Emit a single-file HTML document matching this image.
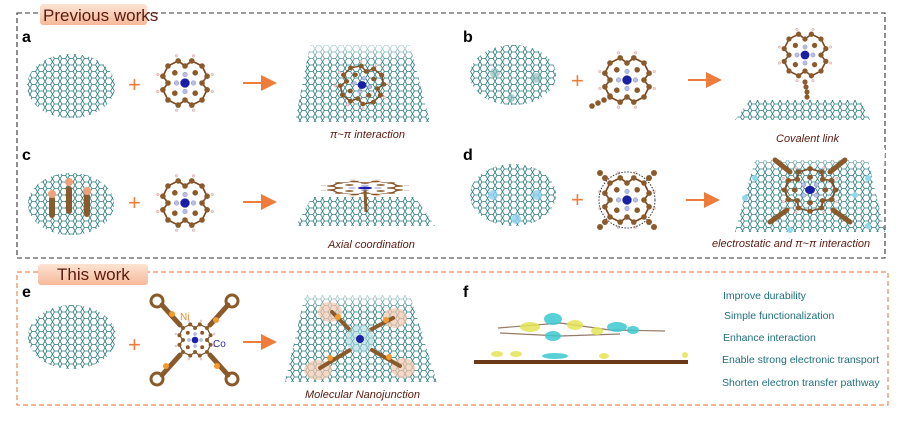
<!DOCTYPE html>
<html><head><meta charset="utf-8"><style>
html,body{margin:0;padding:0;background:#fff}
svg{display:block}
text{font-family:"Liberation Sans",sans-serif}
</style></head><body>
<svg width="900" height="424" viewBox="0 0 900 424" xmlns="http://www.w3.org/2000/svg">
<defs>
<pattern id="hex" width="7.5" height="6.5" patternUnits="userSpaceOnUse">
<path d="M0 3.25 L1.9 0 L5.6 0 L7.5 3.25 L5.6 6.5 L1.9 6.5 Z" fill="none" stroke="#2a7a7e" stroke-width="0.8"/>
</pattern>
<linearGradient id="peach" x1="0" y1="0" x2="0" y2="1"><stop offset="0" stop-color="#fde3d3"/><stop offset="1" stop-color="#f6b99a"/></linearGradient>
<linearGradient id="fade" x1="0" y1="0" x2="0" y2="1"><stop offset="0" stop-color="#fff" stop-opacity="1"/><stop offset="1" stop-color="#fff" stop-opacity="0"/></linearGradient>
<g id="por">
<path d="M-20-20 L-8-26 L0-20 L8-26 L20-20 L26-8 L20 0 L26 8 L20 20 L8 26 L0 20 L-8 26 L-20 20 L-26 8 L-20 0 L-26-8 Z" fill="none" stroke="#7a4a25" stroke-width="2"/>
<g fill="#8b5a2b">
<circle cx="-20" cy="-20" r="3.3"/><circle cx="-8" cy="-26" r="3.3"/><circle cx="0" cy="-20" r="3.3"/><circle cx="8" cy="-26" r="3.3"/><circle cx="20" cy="-20" r="3.3"/><circle cx="26" cy="-8" r="3.3"/><circle cx="20" cy="0" r="3.3"/><circle cx="26" cy="8" r="3.3"/><circle cx="20" cy="20" r="3.3"/><circle cx="8" cy="26" r="3.3"/><circle cx="0" cy="20" r="3.3"/><circle cx="-8" cy="26" r="3.3"/><circle cx="-20" cy="20" r="3.3"/><circle cx="-26" cy="8" r="3.3"/><circle cx="-20" cy="0" r="3.3"/><circle cx="-26" cy="-8" r="3.3"/>
<circle cx="-12" cy="-12" r="3.3"/><circle cx="12" cy="-12" r="3.3"/><circle cx="12" cy="12" r="3.3"/><circle cx="-12" cy="12" r="3.3"/>
</g>
<g fill="#b9c0e6" stroke="#7d86c8" stroke-width="0.6"><circle cx="-10" cy="0" r="2.6"/><circle cx="10" cy="0" r="2.6"/><circle cx="0" cy="-10" r="2.6"/><circle cx="0" cy="10" r="2.6"/></g>
<g fill="#f3d6d6" stroke="#c99" stroke-width="0.5"><circle cx="-10" cy="-32" r="1.6"/><circle cx="10" cy="-32" r="1.6"/><circle cx="32" cy="-10" r="1.6"/><circle cx="32" cy="10" r="1.6"/><circle cx="10" cy="32" r="1.6"/><circle cx="-10" cy="32" r="1.6"/><circle cx="-32" cy="10" r="1.6"/><circle cx="-32" cy="-10" r="1.6"/></g>
<circle cx="0" cy="0" r="5.5" fill="#1a1fa8"/>
</g>
<marker id="ar" markerWidth="8" markerHeight="8" refX="7" refY="4" orient="auto"><path d="M0 0 L8 4 L0 8 Z" fill="#ee7d3c"/></marker>
</defs>

<rect x="17" y="13" width="868" height="245" fill="none" stroke="#333" stroke-width="1.1" stroke-dasharray="5,3"/>
<rect x="40" y="4" width="107" height="21" rx="3" fill="url(#peach)"/>
<text x="43" y="21" font-size="17" fill="#5a1a10">Previous works</text>
<text x="22" y="42" font-size="16" font-weight="bold">a</text>
<text x="463" y="42" font-size="16" font-weight="bold">b</text>
<text x="22" y="160" font-size="16" font-weight="bold">c</text>
<text x="463" y="160" font-size="16" font-weight="bold">d</text>

<ellipse cx="71" cy="86" rx="44" ry="32" fill="url(#hex)"/>
<ellipse cx="513" cy="75" rx="43" ry="30" fill="url(#hex)"/>
<ellipse cx="71" cy="204" rx="43" ry="31" fill="url(#hex)"/>
<ellipse cx="513" cy="195" rx="43" ry="31" fill="url(#hex)"/>
<g fill="#7fb6b6" opacity="0.6"><circle cx="495" cy="73" r="5"/><circle cx="536" cy="78" r="5"/><circle cx="511" cy="98" r="4"/></g>
<g fill="#8ed0f0" opacity="0.8"><circle cx="493" cy="195" r="5"/><circle cx="537" cy="195" r="5"/><circle cx="516" cy="219" r="5"/></g>
<g fill="#8b5a2b"><rect x="49" y="196" width="6" height="22" rx="3"/><rect x="66" y="186" width="6" height="28" rx="3"/><rect x="84" y="193" width="6" height="24" rx="3"/></g>
<g fill="#f0a07a"><circle cx="52" cy="194" r="4"/><circle cx="69" cy="182" r="4"/><circle cx="87" cy="191" r="4"/></g>

<g font-size="22" fill="#ee7d3c"><text x="128" y="92">+</text><text x="571" y="88">+</text><text x="128" y="210">+</text><text x="571" y="207">+</text><text x="128" y="352">+</text></g>

<g transform="translate(185,83) scale(0.85)"><use href="#por"/></g>
<g transform="translate(627,80) scale(0.85)"><use href="#por"/></g>
<g fill="#8b5a2b"><circle cx="610" cy="96" r="2.8"/><circle cx="604" cy="100" r="2.8"/><circle cx="598" cy="103" r="2.8"/><circle cx="592" cy="106" r="2.8"/></g>
<g transform="translate(185,203) scale(0.85)"><use href="#por"/></g>
<g transform="translate(627,200) scale(0.85)"><use href="#por"/></g>
<circle cx="627" cy="200" r="28" fill="none" stroke="#333" stroke-dasharray="1.5,1.5"/>
<g fill="#8b5a2b"><circle cx="605" cy="178" r="3"/><circle cx="600" cy="173" r="3"/><circle cx="649" cy="178" r="3"/><circle cx="654" cy="173" r="3"/><circle cx="605" cy="222" r="3"/><circle cx="600" cy="227" r="3"/><circle cx="649" cy="222" r="3"/><circle cx="654" cy="227" r="3"/></g>

<g stroke="#ee7d3c" stroke-width="2" marker-end="url(#ar)"><line x1="243" y1="83" x2="275" y2="83"/><line x1="688" y1="80" x2="720" y2="80"/><line x1="243" y1="202" x2="275" y2="202"/><line x1="686" y1="200" x2="718" y2="200"/><line x1="243" y1="342" x2="275" y2="342"/></g>

<polygon points="310,45 410,45 430,122 295,122" fill="url(#hex)"/>
<rect x="295" y="38" width="135" height="25" fill="url(#fade)"/>
<g transform="translate(362,85) scale(0.8,0.7) rotate(15)"><use href="#por"/></g>
<text x="330" y="138" font-size="11" font-style="italic" fill="#5a1a10">π~π   interaction</text>

<polygon points="750,100 860,100 870,120 735,120" fill="url(#hex)"/>
<g transform="translate(805,55) scale(0.8)"><use href="#por"/></g>
<g fill="#8b5a2b"><circle cx="805" cy="82" r="2.6"/><circle cx="806" cy="87" r="2.6"/><circle cx="807" cy="92" r="2.6"/><circle cx="807" cy="97" r="2.6"/></g>
<text x="776" y="142" font-size="11" font-style="italic" fill="#5a1a10">Covalent link</text>

<polygon points="312,197 415,197 435,226 296,226" fill="url(#hex)"/>
<g transform="translate(365,188) scale(1.3,0.25)"><use href="#por"/></g>
<line x1="365" y1="190" x2="366" y2="212" stroke="#8b5a2b" stroke-width="3"/>
<text x="328" y="248" font-size="11" font-style="italic" fill="#5a1a10">Axial coordination</text>

<polygon points="755,160 868,160 885,232 735,232" fill="url(#hex)"/>
<rect x="735" y="148" width="150" height="22" fill="url(#fade)"/>
<g transform="translate(810,190) scale(0.9,0.75) rotate(45)"><use href="#por"/></g>
<g stroke="#8b5a2b" stroke-width="5" stroke-linecap="round"><line x1="790" y1="172" x2="775" y2="160"/><line x1="830" y1="172" x2="845" y2="160"/><line x1="787" y1="210" x2="770" y2="222"/><line x1="833" y1="210" x2="850" y2="222"/></g>
<g fill="#8fd8ee"><circle cx="745" cy="198" r="3"/><circle cx="868" cy="178" r="3"/><circle cx="855" cy="195" r="3"/><circle cx="790" cy="230" r="3"/><circle cx="868" cy="226" r="3"/><circle cx="755" cy="178" r="3"/></g>
<text x="712" y="247" font-size="11" font-style="italic" fill="#5a1a10">electrostatic and π~π   interaction</text>

<rect x="17" y="272" width="871" height="133" fill="none" stroke="#ee8a55" stroke-width="1.2" stroke-dasharray="5,3"/>
<rect x="38" y="264" width="110" height="21" rx="3" fill="url(#peach)"/>
<text x="57" y="280" font-size="17" fill="#5a1a10">This work</text>
<text x="22" y="297" font-size="16" font-weight="bold">e</text>
<text x="463" y="297" font-size="16" font-weight="bold">f</text>

<ellipse cx="72" cy="337" rx="44" ry="32" fill="url(#hex)"/>
<g transform="translate(195,340) scale(0.6)"><use href="#por"/></g>
<g stroke="#8b5a2b" stroke-width="5" stroke-linecap="round"><line x1="180" y1="325" x2="162" y2="305"/><line x1="210" y1="325" x2="228" y2="305"/><line x1="180" y1="355" x2="162" y2="375"/><line x1="210" y1="355" x2="228" y2="375"/></g>
<g fill="none" stroke="#8b5a2b" stroke-width="3"><circle cx="157" cy="301" r="6"/><circle cx="232" cy="301" r="6"/><circle cx="157" cy="379" r="6"/><circle cx="232" cy="379" r="6"/></g>
<g fill="#f39a2c"><circle cx="172" cy="314" r="3"/><circle cx="216" cy="320" r="3"/><circle cx="166" cy="366" r="3"/><circle cx="217" cy="366" r="3"/></g>
<text x="180" y="320" font-size="10" fill="#e88a2c" font-family="Liberation Serif">Ni</text>
<text x="213" y="347" font-size="10" fill="#2a2aa8" font-family="Liberation Serif">Co</text>

<polygon points="305,295 410,295 437,382 285,382" fill="url(#hex)"/>
<rect x="285" y="288" width="155" height="22" fill="url(#fade)"/>
<g fill="#f4c8b0" opacity="0.7"><ellipse cx="330" cy="312" rx="12" ry="10"/><ellipse cx="395" cy="318" rx="12" ry="10"/><ellipse cx="318" cy="370" rx="14" ry="10"/><ellipse cx="403" cy="368" rx="12" ry="10"/></g>
<g stroke="#8b5a2b" stroke-width="4" stroke-linecap="round"><line x1="350" y1="330" x2="332" y2="312"/><line x1="370" y1="330" x2="393" y2="318"/><line x1="350" y1="350" x2="320" y2="368"/><line x1="372" y1="350" x2="400" y2="366"/></g>
<circle cx="360" cy="339" r="14" fill="#a8d8e0" opacity="0.6"/>
<circle cx="360" cy="339" r="4" fill="#1a1fa8"/>
<g fill="#f39a2c"><circle cx="338" cy="317" r="3"/><circle cx="386" cy="320" r="3"/><circle cx="330" cy="358" r="3"/><circle cx="389" cy="357" r="3"/></g>
<text x="305" y="398" font-size="11" font-style="italic" fill="#5a1a10">Molecular Nanojunction</text>

<g stroke="#7a5a40" stroke-width="1.2" fill="none" opacity="0.8"><path d="M498 328 L560 323 L610 330 L665 331"/><path d="M500 333 L560 336 L620 334"/></g>
<g fill="#3cc9cf" opacity="0.85"><ellipse cx="553" cy="319" rx="9" ry="6"/><ellipse cx="553" cy="336" rx="8" ry="5"/><ellipse cx="617" cy="327" rx="10" ry="5"/><ellipse cx="633" cy="330" rx="6" ry="4"/><ellipse cx="555" cy="356" rx="13" ry="3"/></g>
<g fill="#e4e455" opacity="0.85"><ellipse cx="530" cy="327" rx="10" ry="5"/><ellipse cx="575" cy="325" rx="8" ry="5"/><ellipse cx="597" cy="331" rx="6" ry="4"/><ellipse cx="497" cy="354" rx="6" ry="3"/><ellipse cx="516" cy="354" rx="6" ry="3"/><ellipse cx="604" cy="356" rx="5" ry="3"/><ellipse cx="685" cy="355" rx="3" ry="3"/></g>
<line x1="474" y1="362" x2="688" y2="362" stroke="#6b3a1a" stroke-width="4"/>
<g fill="#1f6f7a" font-size="10.5">
<text x="723" y="299">Improve durability</text>
<text x="724" y="319">Simple functionalization</text>
<text x="723" y="341">Enhance interaction</text>
<text x="722" y="363">Enable strong electronic transport</text>
<text x="722" y="386">Shorten electron transfer pathway</text>
</g>
</svg>
</body></html>
